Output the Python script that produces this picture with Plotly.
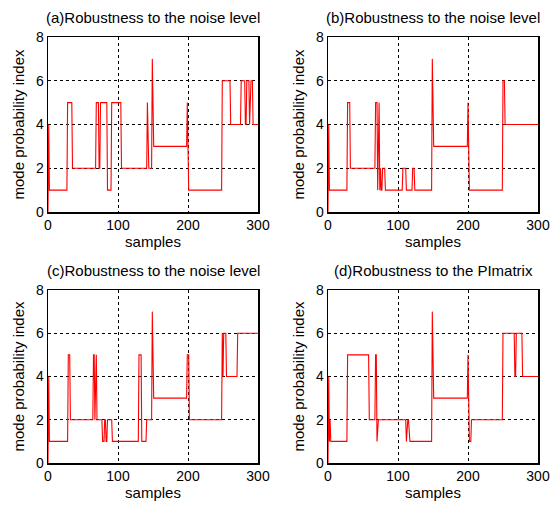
import numpy as np
import plotly.graph_objects as go

# Run-length encoded mode index sequences (value, number of samples)
levels_a = [0, 4, 1, 5, 2, 5, 2, 5, 1, 5, 2, 5, 2, 7, 3, 5, 1, 6, 4, 6, 4, 6, 4, 6, 4]
runs_a   = [1, 1, 26, 7, 34, 4, 2, 10, 6, 14, 37, 1, 6, 1, 49, 1, 49, 12, 15, 6, 2, 4, 1, 4, 8]

levels_b = [0, 4, 1, 5, 2, 5, 1, 5, 1, 2, 1, 2, 1, 2, 1, 2, 1, 7, 3, 5, 1, 6, 4]
runs_b   = [1, 1, 26, 4, 36, 3, 1, 2, 1, 1, 2, 4, 25, 5, 9, 3, 25, 1, 50, 1, 49, 3, 48]

levels_c = [0, 4, 1, 5, 2, 5, 2, 5, 2, 1, 2, 1, 2, 1, 5, 1, 2, 7, 3, 5, 2, 6, 4, 6, 4, 6]
runs_c   = [1, 1, 27, 3, 33, 2, 1, 2, 8, 3, 2, 2, 7, 38, 4, 7, 8, 1, 49, 3, 47, 1, 1, 4, 16, 30]

levels_d = [0, 4, 1, 2, 1, 5, 2, 5, 1, 2, 1, 2, 1, 7, 3, 5, 1, 2, 6, 4, 6, 4]
runs_d   = [1, 1, 1, 1, 24, 31, 9, 2, 1, 41, 1, 3, 33, 1, 50, 1, 4, 45, 17, 2, 9, 23]

titles = ["(a)Robustness to the noise level", "(b)Robustness to the noise level",
          "(c)Robustness to the noise level", "(d)Robustness to the PImatrix"]
x_ticks = [0, 100, 200, 300]
y_ticks = [0, 2, 4, 6, 8]

W, H = 552, 506
FONT = "Liberation Sans Narrow, Arial Narrow, Liberation Sans, Arial, sans-serif"

# pixel boxes of the four plot areas (left, right, top, bottom)
boxes = [(48, 258, 37, 212), (328, 538, 37, 212), (48, 258, 290, 463), (328, 538, 290, 463)]

series = [(levels_a, runs_a), (levels_b, runs_b), (levels_c, runs_c), (levels_d, runs_d)]

fig = go.Figure()
layout = dict(width=W, height=H, margin=dict(l=0, r=0, t=0, b=0),
              paper_bgcolor="white", plot_bgcolor="white", showlegend=False,
              font=dict(family=FONT, color="black", size=14))
annotations = []
for i, ((lv, rn), (l, r, t, b), title) in enumerate(zip(series, boxes, titles)):
    y = np.repeat(lv, rn)
    x = np.arange(len(y))
    sfx = "" if i == 0 else str(i + 1)
    fig.add_trace(go.Scatter(x=x, y=y, mode="lines", line=dict(color="#ff0000", width=1.1),
                             xaxis="x" + sfx, yaxis="y" + sfx, hoverinfo="skip"))
    axstyle = dict(showline=True, mirror=True, linecolor="black", linewidth=1.5,
                   showgrid=True, gridcolor="black", gridwidth=1, griddash="3px,3px",
                   zeroline=False, ticks="", automargin=False,
                   tickfont=dict(size=14, family=FONT))
    layout["xaxis" + sfx] = dict(axstyle, domain=[l / W, r / W], range=[0, 300],
                                  tickvals=x_ticks, anchor="y" + sfx,
                                  title=dict(text="samples", standoff=0, font=dict(size=15, family=FONT)))
    layout["yaxis" + sfx] = dict(axstyle, domain=[1 - b / H, 1 - t / H], range=[0, 8],
                                  tickvals=y_ticks, anchor="x" + sfx,
                                  title=dict(text="mode probability index", standoff=7,
                                             font=dict(size=15, family=FONT)))
    annotations.append(dict(text=title, x=(l + r) / 2 / W, y=1 - (t - 20) / H, xref="paper",
                            yref="paper", xanchor="center", yanchor="middle", showarrow=False,
                            font=dict(size=15, family=FONT)))
layout["annotations"] = annotations
fig.update_layout(**layout)
fig.write_html("out.html", config={"displayModeBar": False, "staticPlot": True},
               post_script="document.body.style.margin='0';document.body.style.overflow='hidden';")
